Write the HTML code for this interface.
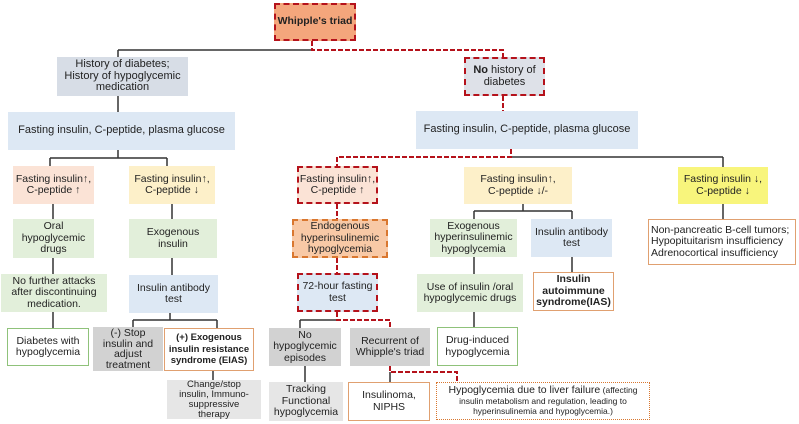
<!DOCTYPE html>
<html><head><meta charset="utf-8"><style>
body{margin:0;background:#fff;}
#c{position:relative;width:799px;height:424px;overflow:hidden;font-family:"Liberation Sans",sans-serif;color:#222;}
.b{position:absolute;box-sizing:border-box;display:flex;align-items:center;justify-content:center;text-align:center;font-size:10.5px;line-height:11.5px;}
.rd{border:2px dashed #b5121b;}
.od{border:2px dashed #d9772f;}
.ow{background:#fff;border:1.5px solid #e0a070;}
.gw{background:#fff;border:1.5px solid #8fc27a;}
.bl{background:#dde8f4;}
.gr{background:#e2efda;}
.pk{background:#fbe3d6;}
.ye{background:#fdf0c9;}
.gy{background:#d2d2d2;}
.lg{background:#e6e6e6;}
svg{position:absolute;left:0;top:0;}
</style></head><body><div id="c">
<svg width="799" height="424">
<g stroke="#333" stroke-width="1.5" fill="none">
<path d="M118 50H312M118 50V57M118 96V112M118 150V158M50 158H167M50 158V166M167 158V166"/>
<path d="M53 204V219M53 258V274M53 312V328M172 204V219M172 258V275M170 313V320M133 320H217M133 320V327M217 320V328M213 371V380"/>
<path d="M511 157H723M723 157V167M723 204V219M523 204V211M474 211H572M474 211V219M572 211V219M474 257V274M572 257V272M474 312V327"/>
<path d="M300 320H337M300 320V328M305 366V382M390 372V382"/>
</g>
<g stroke="#b5121b" stroke-width="2" stroke-dasharray="5,2" fill="none">
<path d="M312 41V50H503V57M503 96V111M511 149V157H337V166M337 204V219M337 258V273M337 312V320H390V328M390 366V372H457V382"/>
</g>
</svg>
<div class="b rd" style="left:274px;top:3px;width:82px;height:38px;background:#f4a67c;font-weight:bold;">Whipple's triad</div>
<div class="b" style="left:57px;top:57px;width:131px;height:39px;background:#d7dde6;font-size:11px;">History of diabetes;<br>History of hypoglycemic<br>medication</div>
<div class="b rd" style="left:464px;top:57px;width:81px;height:39px;background:#dee1e8;font-size:11px;"><span><b>No</b> history of<br>diabetes</span></div>
<div class="b bl" style="left:8px;top:112px;width:227px;height:38px;font-size:11px;">Fasting insulin, C-peptide, plasma glucose</div>
<div class="b bl" style="left:416px;top:111px;width:222px;height:38px;font-size:11px;">Fasting insulin, C-peptide, plasma glucose</div>
<div class="b pk" style="left:13px;top:166px;width:81px;height:38px;">Fasting insulin↑,<br>C-peptide ↑</div>
<div class="b ye" style="left:129px;top:166px;width:86px;height:38px;">Fasting insulin↑,<br>C-peptide ↓</div>
<div class="b rd pk" style="left:297px;top:166px;width:81px;height:38px;">Fasting insulin↑,<br>C-peptide ↑</div>
<div class="b ye" style="left:464px;top:167px;width:108px;height:37px;">Fasting insulin↑,<br>C-peptide ↓/-</div>
<div class="b" style="left:678px;top:167px;width:90px;height:37px;background:#f8f57c;">Fasting insulin ↓,<br>C-peptide ↓</div>
<div class="b gr" style="left:13px;top:219px;width:81px;height:39px;">Oral<br>hypoglycemic<br>drugs</div>
<div class="b gr" style="left:129px;top:219px;width:88px;height:39px;">Exogenous<br>insulin</div>
<div class="b od" style="left:292px;top:219px;width:96px;height:39px;background:#f8c9a6;">Endogenous<br>hyperinsulinemic<br>hypoglycemia</div>
<div class="b gr" style="left:430px;top:219px;width:87px;height:38px;">Exogenous<br>hyperinsulinemic<br>hypoglycemia</div>
<div class="b bl" style="left:531px;top:219px;width:81px;height:38px;">Insulin antibody<br>test</div>
<div class="b ow" style="left:648px;top:219px;width:148px;height:46px;text-align:left;justify-content:flex-start;padding-left:2px;">Non-pancreatic B-cell tumors;<br>Hypopituitarism insufficiency<br>Adrenocortical insufficiency</div>
<div class="b gr" style="left:1px;top:274px;width:106px;height:38px;">No further attacks<br>after discontinuing<br>medication.</div>
<div class="b bl" style="left:129px;top:275px;width:89px;height:38px;">Insulin antibody<br>test</div>
<div class="b rd bl" style="left:297px;top:273px;width:81px;height:39px;">72-hour fasting<br>test</div>
<div class="b gr" style="left:417px;top:274px;width:106px;height:38px;">Use of insulin /oral<br>hypoglycemic drugs</div>
<div class="b ow" style="left:533px;top:272px;width:81px;height:39px;font-weight:bold;">Insulin<br>autoimmune<br>syndrome(IAS)</div>
<div class="b gw" style="left:7px;top:328px;width:82px;height:38px;">Diabetes with<br>hypoglycemia</div>
<div class="b gy" style="left:93px;top:327px;width:70px;height:44px;line-height:10.5px;">(-) Stop<br>insulin and<br>adjust<br>treatment</div>
<div class="b ow" style="left:164px;top:328px;width:90px;height:43px;font-weight:bold;font-size:9.5px;">(+) Exogenous<br>insulin resistance<br>syndrome (EIAS)</div>
<div class="b gy" style="left:269px;top:328px;width:72px;height:38px;">No<br>hypoglycemic<br>episodes</div>
<div class="b gy" style="left:350px;top:328px;width:80px;height:38px;">Recurrent of<br>Whipple's triad</div>
<div class="b gw" style="left:437px;top:327px;width:81px;height:39px;">Drug-induced<br>hypoglycemia</div>
<div class="b lg" style="left:167px;top:380px;width:94px;height:39px;font-size:9.5px;line-height:10px;">Change/stop<br>insulin, Immuno-<br>suppressive<br>therapy</div>
<div class="b lg" style="left:269px;top:382px;width:74px;height:39px;">Tracking<br>Functional<br>hypoglycemia</div>
<div class="b ow" style="left:348px;top:382px;width:82px;height:39px;">Insulinoma,<br>NIPHS</div>
<div class="b" style="left:436px;top:382px;width:214px;height:38px;background:#fff;border:1.5px dotted #d9772f;font-size:8.5px;line-height:10.5px;"><span><span style="font-size:10.5px">Hypoglycemia due to liver failure</span> (affecting<br>insulin metabolism and regulation, leading to<br>hyperinsulinemia and hypoglycemia.)</span></div>
</div></body></html>
